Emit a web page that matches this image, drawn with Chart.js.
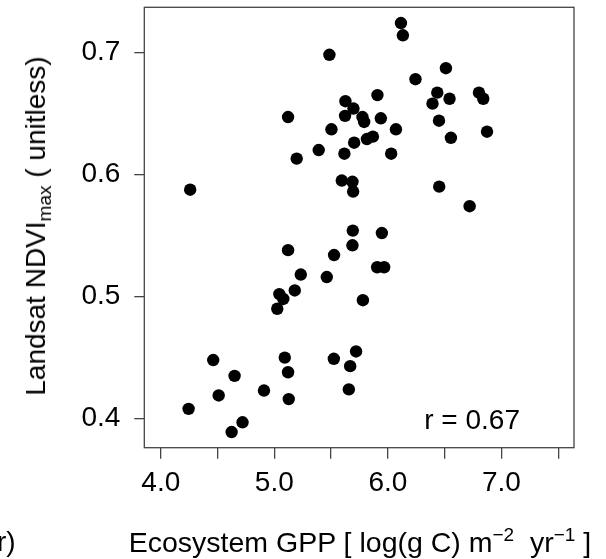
<!DOCTYPE html>
<html>
<head>
<meta charset="utf-8">
<script src="https://cdn.jsdelivr.net/npm/chart.js@4"></script>
<style>
html,body{margin:0;padding:0;background:#fff;}
#wrap{position:relative;width:606px;height:559px;overflow:hidden;background:#fff;}
canvas{position:absolute;left:0;top:0;}
.t{position:absolute;font-family:"Liberation Sans",Arial,sans-serif;font-size:28px;color:#000;white-space:nowrap;line-height:1;}
.sup{position:relative;top:-11px;font-size:19px;}
.sub{position:relative;top:6px;font-size:19px;}
</style>
</head>
<body>
<div id="wrap">
<canvas id="c" width="606" height="559"></canvas>
<div class="t" id="xt" style="left:360px;top:528px;transform:translateX(-50%);font-size:28.5px;">Ecosystem GPP [ log(g C) m<span class="sup">−2</span>&nbsp; yr<span class="sup">−1</span> ]</div>
<div class="t" id="yt" style="left:36px;top:226px;transform:translate(-50%,-50%) rotate(-90deg);">Landsat NDVI<span class="sub">max</span> ( unitless)</div>
<div class="t" id="rt" style="right:86px;top:406px;">r = 0.67</div>
<div class="t" id="frag" style="left:-3px;top:528px;">r)</div>
</div>
<script>
const gpp = [6.115,6.132,5.485,6.511,6.243,6.802,6.435,5.908,6.543,6.840,
             5.626,6.393,5.697,5.121,5.623,5.776,5.938,5.791,6.450,5.503,
             6.071,6.873,5.815,5.868,5.703,6.555,5.391,5.617,6.029,5.197,
             5.594,5.688,5.694,6.452,6.720,5.691,5.947,5.121,5.688,5.526,
             5.233,5.462,5.906,5.967,5.044,5.180,5.079,5.026,5.780,5.092,
             5.524,5.720,5.121,5.668,4.909,5.127,5.656,4.650,4.720,4.624,
             4.462,4.510,4.245,4.259];
const ndvi = [0.724,0.714,0.698,0.687,0.678,0.667,0.667,0.665,0.662,0.662,
              0.660,0.658,0.654,0.647,0.648,0.647,0.646,0.643,0.644,0.637,
              0.637,0.635,0.629,0.631,0.626,0.630,0.620,0.617,0.617,0.613,
              0.595,0.594,0.586,0.590,0.574,0.554,0.552,0.538,0.542,0.534,
              0.518,0.516,0.524,0.524,0.502,0.505,0.498,0.490,0.497,0.450,
              0.449,0.455,0.438,0.443,0.423,0.416,0.424,0.435,0.397,0.389,
              0.448,0.419,0.408,0.5875];
const xTicks = [4.0,4.5,5.0,5.5,6.0,6.5,7.0,7.5];
const xTickLabels = ['4.0','','5.0','','6.0','','7.0',''];
const yTicks = [0.4,0.5,0.6,0.7];
const yTickLabels = ['0.4','0.5','0.6','0.7'];
const xRange = [3.855, 7.639];
const yRange = [0.3762, 0.7369];

const boxPlugin = {
  id:'box',
  afterDraw(chart){
    const a = chart.chartArea, c = chart.ctx;
    c.save();
    c.strokeStyle = '#444';
    c.lineWidth = 1.3;
    c.strokeRect(a.left, a.top, a.right - a.left, a.bottom - a.top);
    c.restore();
  }
};

const font = {family:'"Liberation Sans", Arial, sans-serif', size:28};
function noPad(s){ s.paddingTop = 0; s.paddingBottom = 0; s.paddingLeft = 0; s.paddingRight = 0; }

new Chart(document.getElementById('c'), {
  type:'scatter',
  data:{datasets:[{
    data: gpp.map((x,i)=>({x:x, y:ndvi[i]})),
    backgroundColor:'#000', borderColor:'#000', borderWidth:0,
    pointRadius:6.2, pointHoverRadius:6.2
  }]},
  options:{
    responsive:false, animation:false, devicePixelRatio:1,
    events:[],
    plugins:{legend:{display:false}, tooltip:{enabled:false}},
    layout:{padding:{left:0, top:7.3, right:32, bottom:0}},
    scales:{
      x:{
        type:'linear', min:xRange[0], max:xRange[1],
        afterBuildTicks:s=>{ s.ticks = xTicks.map(v=>({value:v})); },
        afterFit:s=>{ s.height = 111.3; noPad(s); },
        ticks:{callback:v=>xTickLabels[xTicks.indexOf(v)], font:font, color:'#000', padding:8, maxRotation:0, minRotation:0, autoSkip:false},
        grid:{drawOnChartArea:false, drawTicks:true, tickLength:11, color:'#444', lineWidth:1.3},
        border:{display:false}
      },
      y:{
        type:'linear', min:yRange[0], max:yRange[1],
        afterBuildTicks:s=>{ s.ticks = yTicks.map(v=>({value:v})); },
        afterFit:s=>{ s.width = 144.3; noPad(s); },
        ticks:{callback:v=>yTickLabels[yTicks.indexOf(v)], font:font, color:'#000', padding:14, autoSkip:false},
        grid:{drawOnChartArea:false, drawTicks:true, tickLength:10, color:'#444', lineWidth:1.3},
        border:{display:false}
      }
    }
  },
  plugins:[boxPlugin]
});
</script>
</body>
</html>
